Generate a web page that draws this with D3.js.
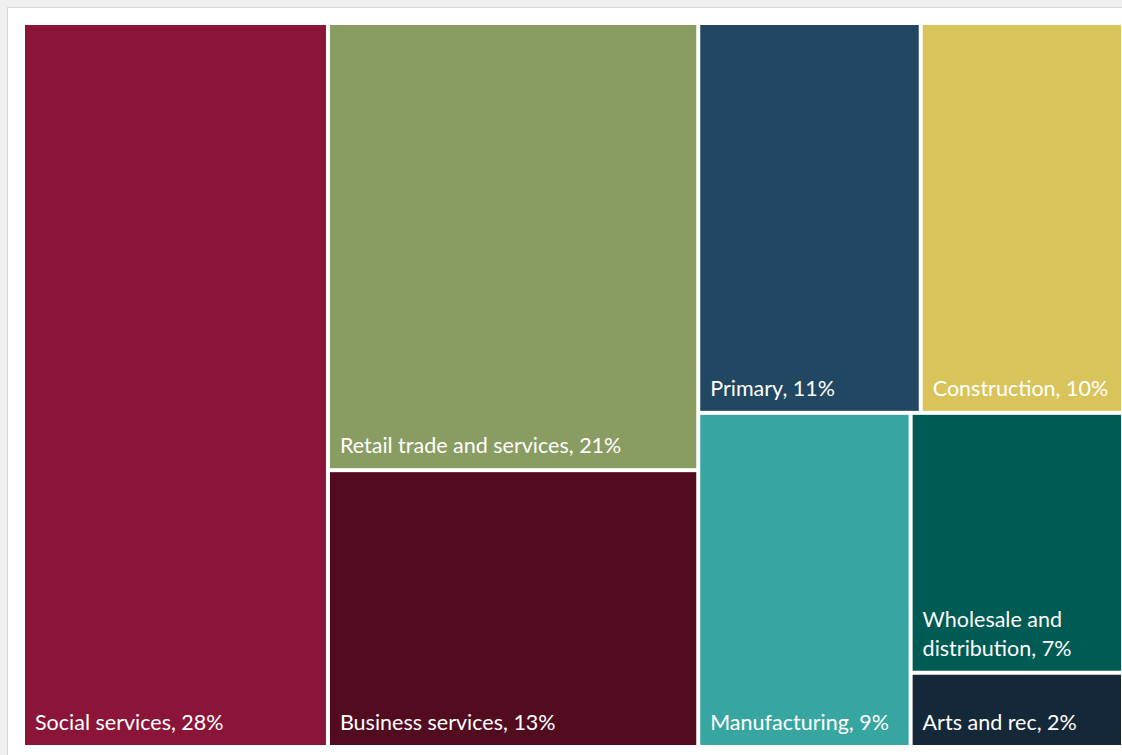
<!DOCTYPE html>
<html>
<head>
<meta charset="utf-8">
<script src="https://cdn.jsdelivr.net/npm/d3@7"></script>
<style>
  html, body { margin: 0; padding: 0; }
  body { width: 1122px; height: 755px; background: #f0f0f0; overflow: hidden; position: relative; }
  #panel { position: absolute; left: 7px; top: 7px; width: 1130px; height: 760px;
           background: #fff; border: 1px solid #d6d6d6; box-sizing: border-box; }
  svg { position: absolute; left: 0; top: 0; }
  text { font-family: Lato, "Open Sans", sans-serif; fill: #fff; }
</style>
</head>
<body>
<div id="panel"></div>
<svg id="chart" width="1122" height="755"></svg>
<script>
// Employment share by industry (%)
const categories = [
  "Social services", "Retail trade and services", "Business services",
  "Primary", "Construction", "Manufacturing", "Wholesale and distribution", "Arts and rec"
];
const shares = [28, 21, 13, 11, 10, 9, 7, 2];
const colors = ["#8a1538", "#899c61", "#530c1f", "#214762", "#d9c45c", "#37a6a0", "#005b55", "#15283a"];

// Grouping of the tiles: columns split across, then rows down, alternating by depth
const groups = {
  name: "root",
  children: [
    { leaf: 0 },
    { children: [{ leaf: 1 }, { leaf: 2 }] },
    { children: [
      { children: [{ leaf: 3 }, { leaf: 4 }] },
      { children: [{ leaf: 5 }, { children: [{ leaf: 6 }, { leaf: 7 }] }] }
    ] }
  ]
};

const W = 1096, H = 720, X0 = 25, Y0 = 25;

const root = d3.hierarchy(groups)
  .sum(d => d.leaf !== undefined ? shares[d.leaf] : 0);

const tile = (node, x0, y0, x1, y1) =>
  (node.depth % 2 === 0 ? d3.treemapDice : d3.treemapSlice)(node, x0, y0, x1, y1);

d3.treemap().size([W, H]).paddingInner(4).tile(tile)(root);

const svg = d3.select("#chart");
const g = svg.append("g").attr("transform", `translate(${X0},${Y0})`);

const leaves = root.leaves().map(n => ({
  x0: n.x0, y0: n.y0, x1: n.x1, y1: n.y1,
  name: categories[n.data.leaf], value: shares[n.data.leaf], color: colors[n.data.leaf]
}));

const cell = g.selectAll("g.cell").data(leaves).join("g").attr("class", "cell");

cell.append("rect")
  .attr("x", d => d.x0).attr("y", d => d.y0)
  .attr("width", d => d.x1 - d.x0).attr("height", d => d.y1 - d.y0)
  .attr("fill", d => d.color);

const fontSize = 21.5, lineH = 29, padX = 10, padB = 15;

cell.each(function(d) {
  const sel = d3.select(this);
  const label = `${d.name}, ${d.value}%`;
  const maxW = d.x1 - d.x0 - 2 * padX;
  // measure words and wrap to the tile width
  const probe = sel.append("text").attr("font-size", fontSize);
  const words = label.split(" ");
  const lines = [];
  let cur = "";
  words.forEach(w => {
    const trial = cur ? cur + " " + w : w;
    probe.text(trial);
    if (probe.node().getComputedTextLength() > maxW && cur) {
      lines.push(cur);
      cur = w;
    } else cur = trial;
  });
  lines.push(cur);
  probe.remove();
  const t = sel.append("text").attr("font-size", fontSize);
  lines.forEach((ln, i) => {
    t.append("tspan")
      .attr("x", d.x0 + padX)
      .attr("y", d.y1 - padB - (lines.length - 1 - i) * lineH)
      .text(ln);
  });
});
</script>
</body>
</html>
